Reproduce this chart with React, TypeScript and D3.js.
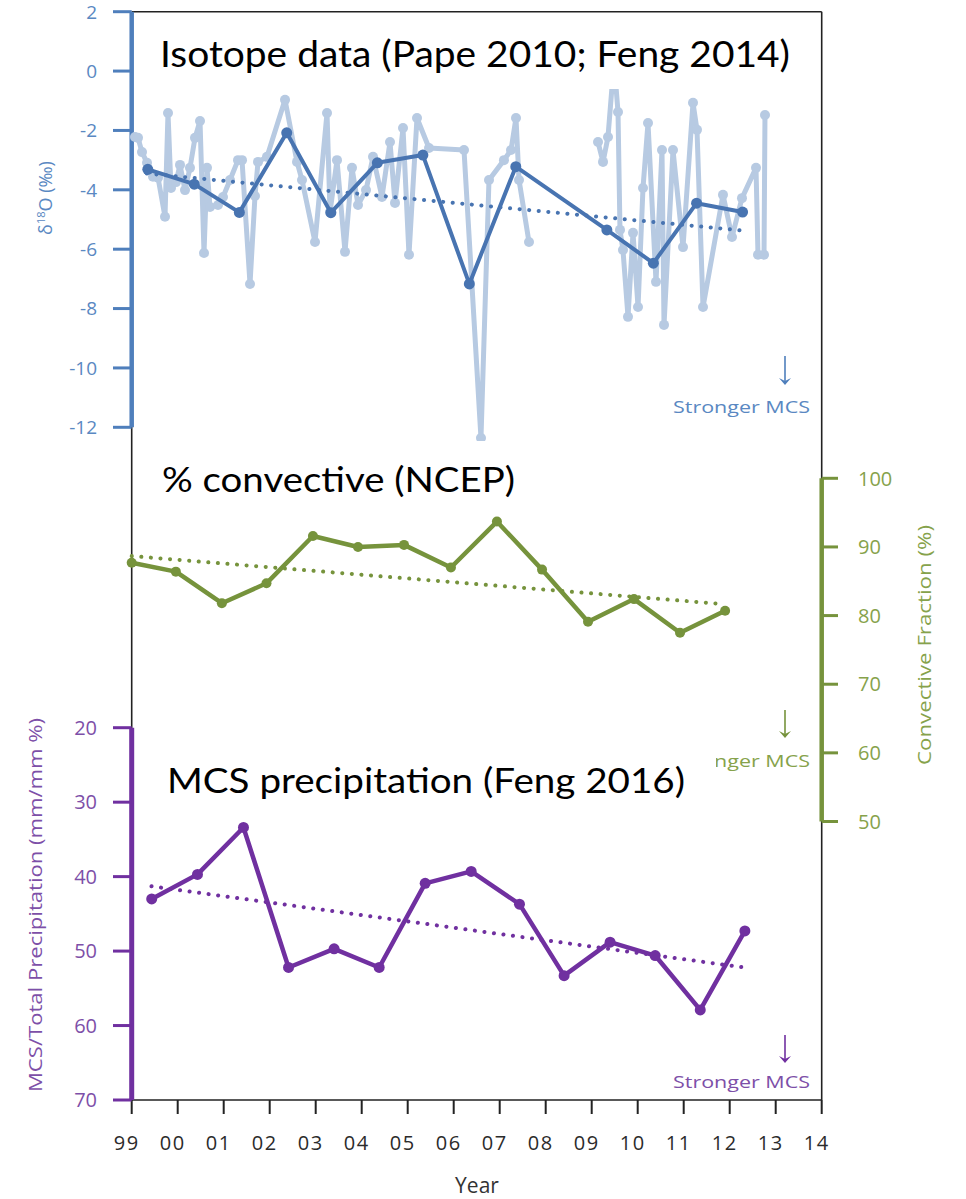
import React from 'react';
import * as d3 from 'd3';

// Year axis
const yearTicks = [1999, 2000, 2001, 2002, 2003, 2004, 2005, 2006, 2007, 2008, 2009, 2010, 2011, 2012, 2013, 2014];
const yearTickLabels = ['99', '00', '01', '02', '03', '04', '05', '06', '07', '08', '09', '10', '11', '12', '13', '14'];

// Panel axes
const isoTicks = [2, 0, -2, -4, -6, -8, -10, -12];
const convTicks = [100, 90, 80, 70, 60, 50];
const mcsTicks = [20, 30, 40, 50, 60, 70];

// Isotope record, sub-annual samples (two sampling periods)
const isoFineYearA = [
  1999.072, 1999.137, 1999.224, 1999.333, 1999.463, 1999.572, 1999.724, 1999.789, 1999.854, 1999.963,
  2000.05, 2000.159, 2000.267, 2000.376, 2000.485, 2000.572, 2000.637, 2000.702, 2000.876, 2000.985,
  2001.137, 2001.311, 2001.398, 2001.572, 2001.68, 2001.746, 2001.941, 2002.333, 2002.594, 2002.702,
  2002.985, 2003.246, 2003.311, 2003.463, 2003.637, 2003.789, 2003.92, 2004.094, 2004.246, 2004.441,
  2004.615, 2004.724, 2004.898, 2005.028, 2005.202, 2005.463, 2006.224, 2006.593, 2006.767, 2007.093,
  2007.246, 2007.354, 2007.42, 2007.637,
];
const isoFineValueA = [
  -2.22, -2.25, -2.73, -3.09, -3.56, -3.59, -4.91, -1.41, -3.94, -3.74,
  -3.16, -4.01, -3.26, -2.25, -1.68, -6.13, -3.26, -4.58, -4.51, -4.24,
  -3.67, -3.0, -3.0, -7.17, -4.21, -3.06, -2.89, -0.97, -3.06, -3.67,
  -5.76, -1.41, -4.75, -3.0, -6.09, -3.26, -4.51, -4.01, -2.89, -4.24,
  -2.39, -4.44, -1.92, -6.19, -1.58, -2.59, -2.66, -12.36, -3.67, -3.0,
  -2.66, -1.58, -3.67, -5.76,
];
const isoFineYearB = [
  2009.137, 2009.246, 2009.354, 2009.485, 2009.572, 2009.615, 2009.68, 2009.789, 2009.898, 2010.007,
  2010.115, 2010.224, 2010.398, 2010.528, 2010.572, 2010.767, 2010.985, 2011.202, 2011.289, 2011.42,
  2011.854, 2012.05, 2012.267, 2012.572, 2012.615, 2012.746, 2012.767,
];
const isoFineValueB = [
  -2.39, -3.06, -2.22, 0.31, -1.38, -5.35, -6.03, -8.28, -5.45, -7.95,
  -3.94, -1.75, -7.1, -2.66, -8.55, -2.66, -5.93, -1.07, -1.98, -7.95,
  -4.17, -5.59, -4.28, -3.26, -6.19, -6.19, -1.48,
];

// Isotope record, annual means and trend
const isoYear = [1999.35, 2000.36, 2001.34, 2002.37, 2003.33, 2004.34, 2005.33, 2006.34, 2007.35, 2009.33, 2010.34, 2011.28, 2012.28];
const isoValue = [-3.31, -3.81, -4.76, -2.08, -4.77, -3.09, -2.83, -7.17, -3.22, -5.35, -6.47, -4.45, -4.75];
const isoTrendYear = [1999.33, 2012.33];
const isoTrendValue = [-3.45, -5.38];

// NCEP convective fraction (%)
const convYear = [1999.0, 1999.96, 2000.96, 2001.93, 2002.94, 2003.92, 2004.92, 2005.94, 2006.94, 2007.92, 2008.92, 2009.92, 2010.92, 2011.9];
const convValue = [87.7, 86.4, 81.8, 84.7, 91.6, 90.0, 90.3, 87.0, 93.7, 86.7, 79.1, 82.4, 77.5, 80.7];
const convTrendYear = [1999.0, 2011.87];
const convTrendValue = [88.67, 81.67];

// MCS / total precipitation (%)
const mcsYear = [1999.435, 2000.43, 2001.43, 2002.41, 2003.4, 2004.38, 2005.38, 2006.38, 2007.43, 2008.4, 2009.4, 2010.38, 2011.36, 2012.33];
const mcsValue = [43.0, 39.7, 33.4, 52.2, 49.7, 52.2, 40.9, 39.3, 43.7, 53.3, 48.8, 50.6, 57.9, 47.3];
const mcsTrendYear = [1999.43, 2012.31];
const mcsTrendValue = [41.3, 52.2];

const BLUE_AXIS = '#4f7fbc';
const BLUE_DARK = '#4874b1';
const BLUE_LIGHT = '#b7cae2';
const BLUE_TEXT = '#5a88c2';
const GREEN = '#76933c';
const GREEN_TEXT = '#86a24b';
const PURPLE = '#7030a0';
const PURPLE_TEXT = '#7d4fa8';
const AXIS_FONT = '"Open Sans", "DejaVu Sans", sans-serif';
const TITLE_FONT = 'Lato, "Open Sans", sans-serif';

const X0 = 131.7;
const X1 = 821.7;
const Y_BOTTOM = 1100;

const x = d3.scaleLinear().domain([1999, 2014]).range([X0, X1]);
const yIso = d3.scaleLinear().domain([-12, 2]).range([427.3, 11.7]);
const yConv = d3.scaleLinear().domain([50, 100]).range([821.5, 478.3]);
const yMcs = d3.scaleLinear().domain([20, 70]).range([727.7, 1100]);

type Pt = [number, number];
const zip = (a: number[], b: number[]): Pt[] => a.map((v, i) => [v, b[i]]);

function Series({ pts, y, color, width, r, dotted }: { pts: Pt[]; y: d3.ScaleLinear<number, number>; color: string; width: number; r: number; dotted?: boolean }) {
  const line = d3.line<Pt>().x(d => x(d[0])).y(d => y(d[1]));
  return (
    <g>
      <path
        d={line(pts) || ''}
        fill="none"
        stroke={color}
        strokeWidth={width}
        strokeLinejoin="round"
        strokeLinecap="round"
        strokeDasharray={dotted ? '0.1 9.5' : undefined}
      />
      {r > 0 && pts.map((p, i) => <circle key={i} cx={x(p[0])} cy={y(p[1])} r={r} fill={color} />)}
    </g>
  );
}

function Arrow({ cx, y1, y2, color }: { cx: number; y1: number; y2: number; color: string }) {
  return (
    <g>
      <line x1={cx} x2={cx} y1={y1} y2={y2 - 4} stroke={color} strokeWidth={1.6} />
      <path d={`M${cx - 6},${y2 - 7} L${cx},${y2} L${cx + 6},${y2 - 7} L${cx},${y2 - 4} Z`} fill={color} />
    </g>
  );
}

export default function App() {
  return (
    <svg width={966} height={1199} style={{ position: 'absolute', left: 0, top: 0, display: 'block' }}>
      <rect x={0} y={0} width={966} height={1199} fill="#ffffff" />

      {/* frame */}
      <g stroke="#222" strokeWidth={1.6} fill="none">
        <line x1={X0} x2={X1} y1={11.7} y2={11.7} />
        <line x1={X0} x2={X0} y1={11.7} y2={Y_BOTTOM} />
        <line x1={X1} x2={X1} y1={11.7} y2={Y_BOTTOM} />
        <line x1={X0} x2={X1} y1={Y_BOTTOM} y2={Y_BOTTOM} />
      </g>

      {/* year axis */}
      <g>
        {yearTicks.map((t, i) => (
          <g key={t}>
            <line x1={x(t)} x2={x(t)} y1={Y_BOTTOM} y2={Y_BOTTOM + 14} stroke="#222" strokeWidth={2} />
            <text x={x(t) - 5} y={1150} textAnchor="middle" fontFamily={AXIS_FONT} fontSize={20} letterSpacing={1.5} fill="#2b2b2b">
              {yearTickLabels[i]}
            </text>
          </g>
        ))}
        <text x={477} y={1193} textAnchor="middle" fontFamily={AXIS_FONT} fontSize={21} fill="#333">Year</text>
      </g>

      {/* isotope axis */}
      <g>
        <line x1={X0} x2={X0} y1={yIso(2)} y2={yIso(-12)} stroke={BLUE_AXIS} strokeWidth={4.5} />
        {isoTicks.map(t => (
          <g key={t}>
            <line x1={113} x2={X0} y1={yIso(t)} y2={yIso(t)} stroke={BLUE_AXIS} strokeWidth={3} />
            <text x={97} y={yIso(t)} dy="0.36em" textAnchor="end" fontFamily={AXIS_FONT} fontSize={19} fill={BLUE_TEXT}>
              {t}
            </text>
          </g>
        ))}
        <text transform="translate(52,198) rotate(-90)" textAnchor="middle" fontFamily={AXIS_FONT} fontSize={18} fill={BLUE_TEXT}>
          δ<tspan fontSize={11} dy={-7}>18</tspan><tspan dy={7}>O (‰)</tspan>
        </text>
      </g>

      {/* convective fraction axis */}
      <g>
        <line x1={X1} x2={X1} y1={yConv(100)} y2={yConv(50)} stroke={GREEN} strokeWidth={4.5} />
        {convTicks.map(t => (
          <g key={t}>
            <line x1={X1} x2={838} y1={yConv(t)} y2={yConv(t)} stroke={GREEN} strokeWidth={3} />
            <text x={858} y={yConv(t)} dy="0.36em" textAnchor="start" fontFamily={AXIS_FONT} fontSize={20} fill={GREEN_TEXT}>
              {t}
            </text>
          </g>
        ))}
        <text transform="translate(931,645) rotate(-90)" textAnchor="middle" fontFamily={AXIS_FONT} fontSize={19} fill={GREEN_TEXT} textLength={240} lengthAdjust="spacingAndGlyphs">
          Convective Fraction (%)
        </text>
      </g>

      {/* MCS precipitation axis */}
      <g>
        <line x1={X0} x2={X0} y1={yMcs(20)} y2={yMcs(70)} stroke={PURPLE} strokeWidth={5} />
        {mcsTicks.map(t => (
          <g key={t}>
            <line x1={113} x2={X0} y1={yMcs(t)} y2={yMcs(t)} stroke={PURPLE} strokeWidth={3} />
            <text x={97} y={yMcs(t)} dy="0.36em" textAnchor="end" fontFamily={AXIS_FONT} fontSize={20} fill={PURPLE_TEXT}>
              {t}
            </text>
          </g>
        ))}
        <text transform="translate(42,905) rotate(-90)" textAnchor="middle" fontFamily={AXIS_FONT} fontSize={19} fill={PURPLE_TEXT} textLength={374} lengthAdjust="spacingAndGlyphs">
          MCS/Total Precipitation (mm/mm %)
        </text>
      </g>

      {/* isotope series */}
      <Series pts={zip(isoFineYearA, isoFineValueA)} y={yIso} color={BLUE_LIGHT} width={5} r={5} />
      <Series pts={zip(isoFineYearB, isoFineValueB)} y={yIso} color={BLUE_LIGHT} width={5} r={5} />
      <Series pts={zip(isoTrendYear, isoTrendValue)} y={yIso} color={BLUE_DARK} width={4} r={0} dotted />
      <Series pts={zip(isoYear, isoValue)} y={yIso} color={BLUE_DARK} width={4} r={5.5} />

      {/* convective series */}
      <Series pts={zip(convTrendYear, convTrendValue)} y={yConv} color={GREEN} width={4} r={0} dotted />
      <Series pts={zip(convYear, convValue)} y={yConv} color={GREEN} width={4.5} r={5} />

      {/* MCS series */}
      <Series pts={zip(mcsTrendYear, mcsTrendValue)} y={yMcs} color={PURPLE} width={4} r={0} dotted />
      <Series pts={zip(mcsYear, mcsValue)} y={yMcs} color={PURPLE} width={4.5} r={5.5} />

      {/* direction notes */}
      <Arrow cx={785} y1={356} y2={385} color={BLUE_AXIS} />
      <text x={810} y={413} textAnchor="end" fontFamily={AXIS_FONT} fontSize={17} fill={BLUE_TEXT} textLength={137} lengthAdjust="spacingAndGlyphs">Stronger MCS</text>
      <Arrow cx={785} y1={710} y2={738} color={GREEN} />
      <text x={810} y={767} textAnchor="end" fontFamily={AXIS_FONT} fontSize={17} fill={GREEN_TEXT} textLength={137} lengthAdjust="spacingAndGlyphs">Stronger MCS</text>
      <Arrow cx={785} y1={1035} y2={1063} color={PURPLE} />
      <text x={810} y={1088} textAnchor="end" fontFamily={AXIS_FONT} fontSize={17} fill={PURPLE_TEXT} textLength={137} lengthAdjust="spacingAndGlyphs">Stronger MCS</text>

      {/* panel titles on white boxes */}
      <rect x={150} y={18} width={655} height={71} fill="#fff" />
      <text x={160} y={67} fontFamily={TITLE_FONT} fontSize={36} fill="#000" textLength={630} lengthAdjust="spacingAndGlyphs">
        Isotope data (Pape 2010; Feng 2014)
      </text>
      <rect x={140} y={441} width={460} height={64} fill="#fff" />
      <text x={162} y={492} fontFamily={TITLE_FONT} fontSize={35} fill="#000" textLength={353} lengthAdjust="spacingAndGlyphs">
        % convective (NCEP)
      </text>
      <rect x={150} y={745} width={566} height={60} fill="#fff" />
      <text x={167} y={793} fontFamily={TITLE_FONT} fontSize={35} fill="#000" textLength={518} lengthAdjust="spacingAndGlyphs">
        MCS precipitation (Feng 2016)
      </text>
    </svg>
  );
}
